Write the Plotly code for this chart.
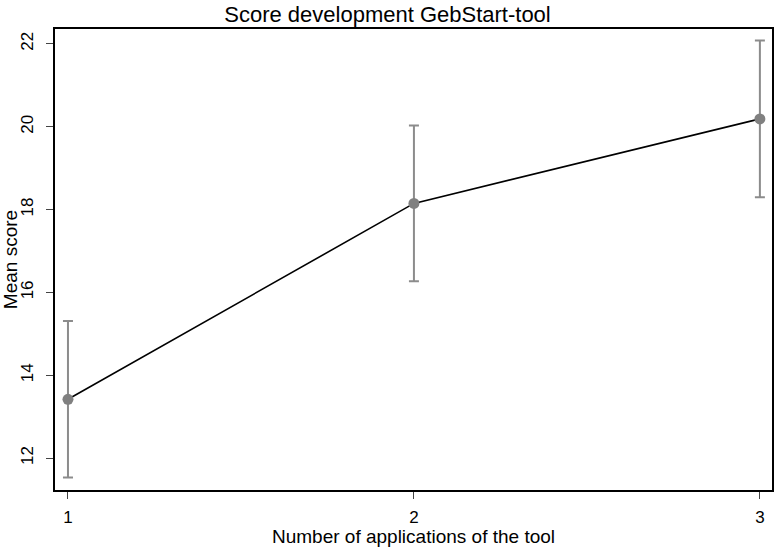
import plotly.graph_objects as go

applications = [1, 2, 3]
mean_score = [13.42, 18.15, 20.19]
ci_half = [1.89, 1.88, 1.89]
x_ticks = [1, 2, 3]
y_ticks = [12, 14, 16, 18, 20, 22]

fig = go.Figure()
fig.add_trace(go.Scatter(
    x=applications, y=mean_score, mode="lines",
    line=dict(color="black", width=1.6), showlegend=False, hoverinfo="skip"))
fig.add_trace(go.Scatter(
    x=applications, y=mean_score, mode="markers",
    marker=dict(color="#808080", size=11),
    error_y=dict(type="data", array=ci_half, visible=True,
                 color="#8c8c8c", thickness=2, width=5),
    showlegend=False))

fig.update_layout(
    width=775, height=547,
    margin=dict(l=55, r=1, t=29, b=57),
    paper_bgcolor="white", plot_bgcolor="white",
    font=dict(family="Liberation Sans, Arial, sans-serif", color="black", size=17),
    title=dict(text="Score development GebStart-tool", x=0.5, xanchor="center",
               yref="container", y=0.974, yanchor="middle",
               font=dict(size=22)),
    xaxis=dict(range=[0.9625, 3.035], tickvals=x_ticks, ticks="outside",
               ticklen=7, tickcolor="#444", showgrid=False, zeroline=False,
               showline=True, linecolor="black", linewidth=1.5, mirror=True,
               ticklabelstandoff=4,
               title=dict(text="Number of applications of the tool", standoff=2,
                          font=dict(size=19)),
               tickfont=dict(size=17)),
    yaxis=dict(range=[11.23, 22.36], tickvals=y_ticks, ticks="outside",
               ticklen=7, tickcolor="#444", showgrid=False, zeroline=False,
               showline=True, linecolor="black", linewidth=1.5, mirror=True,
               tickangle=-90, ticklabelstandoff=6,
               title=dict(text="Mean score", standoff=4, font=dict(size=19)),
               tickfont=dict(size=17)),
)

fig.write_html("out.html")
